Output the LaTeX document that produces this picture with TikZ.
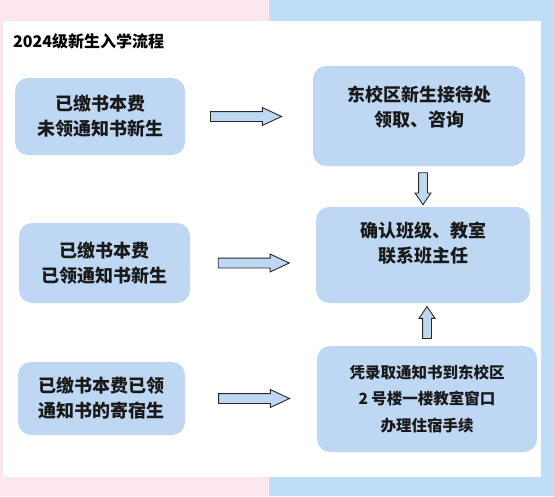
\documentclass[tikz,border=0pt]{standalone}
\usepackage{fontspec}
\setmainfont{Noto Sans CJK SC}
\usetikzlibrary{shapes.arrows}

\definecolor{boxblue}{RGB}{190,216,244}
\definecolor{sideblue}{RGB}{193,222,248}
\definecolor{sidepink}{RGB}{253,231,236}
\definecolor{arrowline}{RGB}{40,40,40}

\begin{document}
\begin{tikzpicture}[x=1pt,y=-1pt,
    box/.style={fill=boxblue,rounded corners=13pt,align=center,inner sep=0pt,
      text=black!90,font=\fontsize{18}{25}\selectfont\bfseries},
    harrow/.style={single arrow,draw=arrowline,fill=boxblue,line width=0.9pt,
      inner sep=0pt,inner ysep=4.5pt,minimum height=71pt,anchor=tail,
      single arrow head extend=4pt,single arrow tip angle=50},
    varrow/.style={single arrow,draw=arrowline,fill=boxblue,line width=0.9pt,
      inner sep=0pt,inner ysep=4pt,minimum height=32pt,anchor=tail,
      single arrow head extend=3.5pt,single arrow tip angle=68}]
  % background
  \fill[sidepink] (0,0) rectangle (269,496);
  \fill[sideblue] (269,0) rectangle (554,496);
  \fill[white] (3,21) rectangle (541,477);

  \node[anchor=west,inner sep=0pt,font=\fontsize{16}{16}\selectfont\bfseries]
    (title) at (13,41.5) {2024级新生入学流程};

  % left column
  \node[box,minimum width=170pt,minimum height=77pt] (a1) at (100,116.5)
    {已缴书本费\\未领通知书新生};
  \node[box,minimum width=171pt,minimum height=80pt] (a2) at (104.5,263)
    {已缴书本费\\已领通知书新生};
  \node[box,minimum width=167pt,minimum height=73pt] (a3) at (101.5,398.5)
    {已缴书本费已领\\通知书的寄宿生};

  % right column
  \node[box,minimum width=212pt,minimum height=100pt] (b1) at (419,116)
    {\raisebox{7.5pt}[\height][\depth]{\begin{tabular}{@{}c@{}}东校区新生接待处\\领取、咨询\end{tabular}}};
  \node[box,minimum width=214pt,minimum height=96pt] (b2) at (423,255)
    {\raisebox{10pt}[\height][\depth]{\begin{tabular}{@{}c@{}}确认班级、教室\\联系班主任\end{tabular}}};
  \node[box,minimum width=220pt,minimum height=106pt,
    font=\fontsize{15.5}{26.5}\selectfont\bfseries] (b3) at (427,399)
    {凭录取通知书到东校区\\2 号楼一楼教室窗口\\办理住宿手续};

  % arrows
  \path (a1.east) -- (a1.east -| b1.west) node[harrow,pos=.195] (r1) {};
  \path (a2.east) -- (a2.east -| b2.west) node[harrow,pos=.22] (r2) {};
  \path (a3.east) -- (a3.east -| b3.west) node[harrow,pos=.25] (r3) {};
  \path (b2.north |- b1.south) -- (b2.north) node[varrow,pos=.15,rotate=-90] (d1) {};
  \path (b3.north) -- (b3.north |- b2.south) node[varrow,pos=.16,rotate=90] (u1) {};
\end{tikzpicture}
\end{document}
